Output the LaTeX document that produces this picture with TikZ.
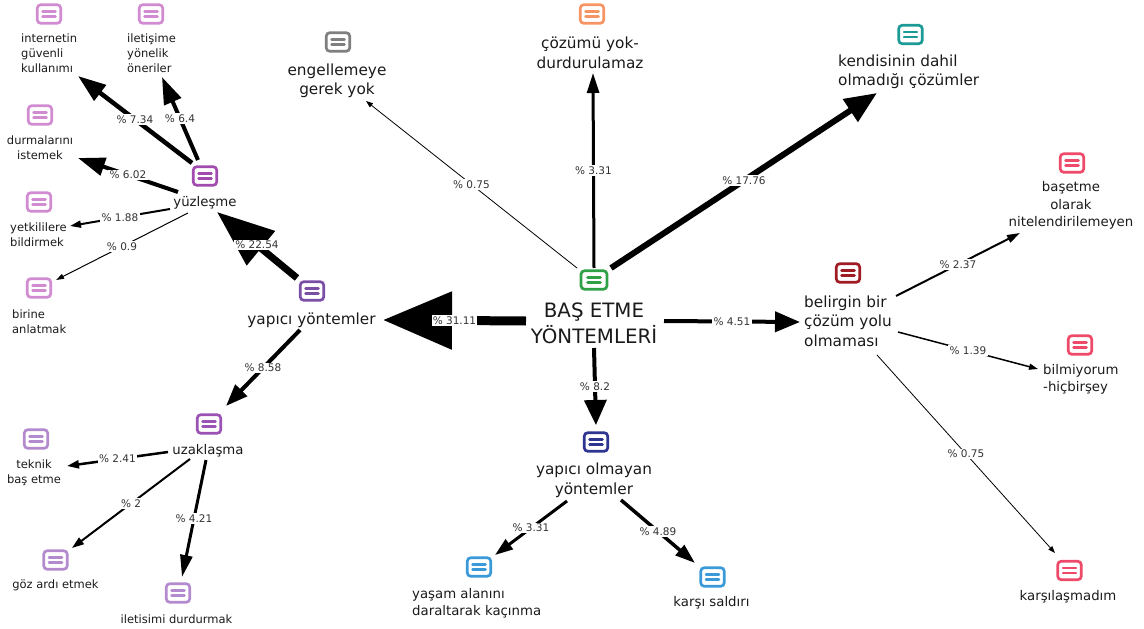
\documentclass[tikz,border=0pt]{standalone}
\usepackage{fontspec}
\setmainfont{DejaVu Sans}
\usetikzlibrary{arrows.meta}
\definecolor{txt}{HTML}{1A1A1A}
\definecolor{labc}{HTML}{333333}
\definecolor{cgreen}{HTML}{2FA046}
\definecolor{cgray}{HTML}{7F7F7F}
\definecolor{corange}{HTML}{F79463}
\definecolor{cteal}{HTML}{1B9A96}
\definecolor{cpink}{HTML}{EE4A6A}
\definecolor{cdred}{HTML}{9E1C22}
\definecolor{cdblue}{HTML}{2D3590}
\definecolor{clblue}{HTML}{3A9AD9}
\definecolor{cyapyon}{HTML}{7B4FA6}
\definecolor{cyuz}{HTML}{A24BAE}
\definecolor{cyuzc}{HTML}{D18BD1}
\definecolor{cuzak}{HTML}{9A52B3}
\definecolor{cuzakc}{HTML}{B48ACF}
\tikzset{
  icon/.style={draw=#1, line width=2.7pt, rounded corners=3.5pt,
    minimum width=23.5pt, minimum height=18.5pt, inner sep=0pt, fill=white,
    path picture={
      \draw[#1, line width=2.5pt, line cap=round]
        ([xshift=-6.5pt,yshift=2.4pt]path picture bounding box.center) --
        ([xshift=6.5pt,yshift=2.4pt]path picture bounding box.center);
      \draw[#1, line width=2.5pt, line cap=round]
        ([xshift=-6.5pt,yshift=-2.4pt]path picture bounding box.center) --
        ([xshift=6.5pt,yshift=-2.4pt]path picture bounding box.center);
    }},
  t0/.style={font=\fontsize{19.8}{26}\selectfont, align=center, inner sep=0pt, text=txt},
  t1/.style={font=\fontsize{15.3}{19.5}\selectfont, align=center, inner sep=0pt, text=txt},
  t2/.style={font=\fontsize{13.3}{17.5}\selectfont, align=center, inner sep=0pt, text=txt},
  t3/.style={font=\fontsize{11.5}{15}\selectfont, align=center, inner sep=0pt, text=txt},
  lab/.style={font=\fontsize{10.5}{12}\selectfont, fill=white, text=labc, inner sep=1.2pt},
  conn/.style n args={3}{draw=black, line width=#1, line cap=butt,
    -{Triangle[length=#2, width=#3]}},
}
\begin{document}
\begin{tikzpicture}[x=1pt,y=-1pt]
\useasboundingbox (0,0) rectangle (1144,629);

% ---------- text nodes ----------
\node[t0] (root) at (594,323) {BAŞ ETME\\YÖNTEMLERİ};
\node[t1] (engel) at (337,81) {engellemeye\\gerek yok};
\node[t1] (cozum) at (590,53) {çözümü yok-\\durdurulamaz};
\node[t1, align=left, anchor=west] (kendi) at (838,72) {kendisinin dahil\\olmadığı çözümler};
\node[t2] (baset) at (1071,205.5) {başetme\\olarak\\nitelendirilemeyen};
\node[t1, align=left, anchor=west] (belir) at (804,321) {belirgin bir\\çözüm yolu\\olmaması};
\node[t2, align=left, anchor=west] (bilmi) at (1043,379.5) {bilmiyorum\\-hiçbirşey};
\node[t2] (karsilas) at (1068,597) {karşılaşmadım};
\node[t1] (yapolm) at (594,480.5) {yapıcı olmayan\\yöntemler};
\node[t2, align=left, anchor=west] (yasam) at (412,603) {yaşam alanını\\daraltarak kaçınma};
\node[t2] (karsi) at (711.5,603) {karşı saldırı};
\node[t1] (yapyon) at (311.5,320) {yapıcı yöntemler};
\node[t2] (yuzles) at (205,203) {yüzleşme};
\node[t2] (uzak) at (208,451) {uzaklaşma};
\node[t3, align=left, anchor=west] (internet) at (21,53) {internetin\\güvenli\\kullanımı};
\node[t3, align=left, anchor=west] (iletisime) at (127,53) {iletişime\\yönelik\\öneriler};
\node[t3] (durmalar) at (40,147.5) {durmalarını\\istemek};
\node[t3, align=left, anchor=west] (yetkili) at (10,234.5) {yetkililere\\bildirmek};
\node[t3, align=left, anchor=west] (birine) at (12,322) {birine\\anlatmak};
\node[t3] (teknik) at (34,472.5) {teknik\\baş etme};
\node[t3] (gozardi) at (55.5,585) {göz ardı etmek};
\node[t3] (iletisimi) at (176.5,619) {iletisimi durdurmak};

% ---------- icons ----------
\node[icon=cgreen, minimum width=26pt] (root-i) at (594,280) {};
\node[icon=cgray] (engel-i) at (338,42) {};
\node[icon=corange] (cozum-i) at (592,14) {};
\node[icon=cteal] (kendi-i) at (910.5,34.5) {};
\node[icon=cpink] (baset-i) at (1072,163) {};
\node[icon=cdred] (belir-i) at (848,273) {};
\node[icon=cpink] (bilmi-i) at (1080,345) {};
\node[icon=cpink] (karsilas-i) at (1069.5,570.5) {};
\node[icon=cdblue] (yapolm-i) at (596,442) {};
\node[icon=clblue] (yasam-i) at (479,567) {};
\node[icon=clblue] (karsi-i) at (712.5,577) {};
\node[icon=cyapyon] (yapyon-i) at (312,291) {};
\node[icon=cyuz] (yuzles-i) at (205,176) {};
\node[icon=cuzak] (uzak-i) at (209,424) {};
\node[icon=cyuzc] (internet-i) at (49,14) {};
\node[icon=cyuzc] (iletisime-i) at (151,14) {};
\node[icon=cyuzc] (durmalar-i) at (40,115) {};
\node[icon=cyuzc] (yetkili-i) at (39,202) {};
\node[icon=cyuzc] (birine-i) at (39,288) {};
\node[icon=cuzakc] (teknik-i) at (36,439) {};
\node[icon=cuzakc] (gozardi-i) at (55.5,560) {};
\node[icon=cuzakc] (iletisimi-i) at (178,593) {};

% ---------- connector end points ----------
\coordinate (root-w) at (526,321);
\coordinate (yapyon-in) at (383,320);
\coordinate (root-ne) at (611,268);
\coordinate (kendi-in) at (877,93);
\coordinate (root-nw) at (577,268);
\coordinate (engel-in) at (366,101);
\coordinate (root-n) at (594,268);
\coordinate (cozum-in) at (593,73);
\coordinate (root-s) at (594,348);
\coordinate (yapolm-in) at (596,425);
\coordinate (root-e) at (664,321);
\coordinate (belir-in) at (800,322);
\coordinate (yapyon-ne) at (297,278);
\coordinate (yuzles-in) at (217,212);
\coordinate (yapyon-s) at (300,330);
\coordinate (uzak-in) at (226,406);
\coordinate (yuzles-a) at (192,163);
\coordinate (internet-in) at (78,76);
\coordinate (yuzles-b) at (198,160);
\coordinate (iletisime-in) at (162,77);
\coordinate (yuzles-c) at (178,192);
\coordinate (durmalar-in) at (78,158);
\coordinate (yuzles-d) at (170,209);
\coordinate (yetkili-in) at (70,226);
\coordinate (yuzles-e) at (188,213);
\coordinate (birine-in) at (56,280);
\coordinate (uzak-a) at (168,452);
\coordinate (teknik-in) at (67,466);
\coordinate (uzak-b) at (190,459);
\coordinate (gozardi-in) at (72,548);
\coordinate (uzak-c) at (206,460);
\coordinate (iletisimi-in) at (182,577);
\coordinate (belir-a) at (896,296);
\coordinate (baset-in) at (1020,233);
\coordinate (belir-b) at (898,332);
\coordinate (bilmi-in) at (1038,369);
\coordinate (belir-c) at (877,355);
\coordinate (karsilas-in) at (1055,553);
\coordinate (yapolm-a) at (567,501);
\coordinate (yasam-in) at (495,555);
\coordinate (yapolm-b) at (621,500);
\coordinate (karsi-in) at (695,563);

% ---------- connectors ----------
\draw[conn={9pt}{69pt}{56pt}] (root-w) -- node[lab]{\% 31.11} (yapyon-in);
\draw[conn={6pt}{32pt}{26pt}] (root-ne) -- node[lab]{\% 17.76} (kendi-in);
\draw[conn={0.8pt}{7pt}{5pt}] (root-nw) -- node[lab]{\% 0.75} (engel-in);
\draw[conn={3pt}{20pt}{12pt}] (root-n) -- node[lab]{\% 3.31} (cozum-in);
\draw[conn={4pt}{25pt}{22pt}] (root-s) -- node[lab]{\% 8.2} (yapolm-in);
\draw[conn={4pt}{25pt}{20pt}] (root-e) -- node[lab]{\% 4.51} (belir-in);
\draw[conn={7pt}{57pt}{43pt}] (yapyon-ne) -- node[lab]{\% 22.54} (yuzles-in);
\draw[conn={4pt}{22pt}{16pt}] (yapyon-s) -- node[lab]{\% 8.58} (uzak-in);
\draw[conn={4.5pt}{28pt}{19pt}] (yuzles-a) -- node[lab]{\% 7.34} (internet-in);
\draw[conn={4pt}{27pt}{18pt}] (yuzles-b) -- node[lab]{\% 6.4} (iletisime-in);
\draw[conn={4pt}{27pt}{18pt}] (yuzles-c) -- node[lab]{\% 6.02} (durmalar-in);
\draw[conn={2pt}{11pt}{7pt}] (yuzles-d) -- node[lab]{\% 1.88} (yetkili-in);
\draw[conn={1pt}{8pt}{5pt}] (yuzles-e) -- node[lab]{\% 0.9} (birine-in);
\draw[conn={2.5pt}{12pt}{8pt}] (uzak-a) -- node[lab]{\% 2.41} (teknik-in);
\draw[conn={2pt}{12pt}{8pt}] (uzak-b) -- node[lab]{\% 2} (gozardi-in);
\draw[conn={3pt}{22pt}{12pt}] (uzak-c) -- node[lab]{\% 4.21} (iletisimi-in);
\draw[conn={2pt}{13pt}{8pt}] (belir-a) -- node[lab]{\% 2.37} (baset-in);
\draw[conn={1.5pt}{9pt}{6pt}] (belir-b) -- node[lab]{\% 1.39} (bilmi-in);
\draw[conn={0.8pt}{7pt}{5pt}] (belir-c) -- node[lab]{\% 0.75} (karsilas-in);
\draw[conn={3pt}{18pt}{12pt}] (yapolm-a) -- node[lab]{\% 3.31} (yasam-in);
\draw[conn={3.5pt}{20pt}{13pt}] (yapolm-b) -- node[lab]{\% 4.89} (karsi-in);
\end{tikzpicture}
\end{document}
